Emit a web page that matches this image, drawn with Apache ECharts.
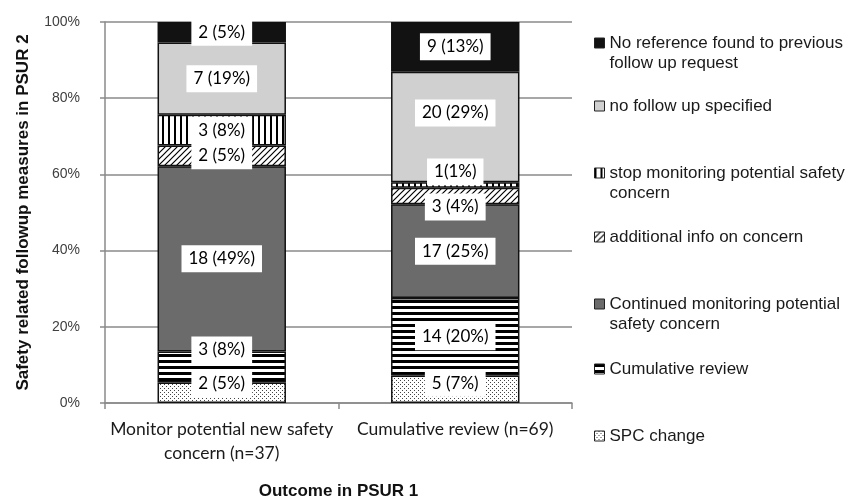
<!DOCTYPE html>
<html>
<head>
<meta charset="utf-8">
<script src="https://cdn.jsdelivr.net/npm/echarts@6/dist/echarts.min.js"></script>
<style>html,body{margin:0;padding:0;background:#fff}#c{width:858px;height:497px}</style>
</head>
<body>
<div id="c"></div>
<script>
// ---- data ----
const categories = ['Monitor potential new safety\nconcern (n=37)', 'Cumulative review (n=69)'];
const seriesNames = ['SPC change', 'Cumulative review', 'Continued monitoring potential\nsafety concern',
  'additional info on concern', 'stop monitoring potential safety\nconcern', 'no follow up specified',
  'No reference found to previous\nfollow up request'];
const spcChange = [2, 5];
const cumulativeReview = [3, 14];
const continuedMonitoring = [18, 17];
const additionalInfo = [2, 3];
const stopMonitoring = [3, 1];
const noFollowUp = [7, 20];
const noReference = [2, 9];
const spcLabels = ['2 (5%)', '5 (7%)'];
const cumulativeLabels = ['3 (8%)', '14 (20%)'];
const continuedLabels = ['18 (49%)', '17 (25%)'];
const additionalLabels = ['2 (5%)', '3 (4%)'];
const stopLabels = ['3 (8%)', '1(1%)'];
const noFollowLabels = ['7 (19%)', '20 (29%)'];
const noReferenceLabels = ['2 (5%)', '9 (13%)'];
const yTicks = [0, 20, 40, 60, 80, 100];

// ---- styling helpers ----
function pattern(w, h, draw) {
  const c = document.createElement('canvas');
  c.width = w; c.height = h;
  const ctx = c.getContext('2d');
  ctx.fillStyle = '#fff'; ctx.fillRect(0, 0, w, h);
  draw(ctx);
  return { image: c, repeat: 'repeat' };
}
const fills = [
  pattern(4, 4, ctx => { ctx.fillStyle = '#444'; ctx.fillRect(0, 0, 1, 1); ctx.fillRect(2, 2, 1, 1); }),
  pattern(6, 6, ctx => { ctx.fillStyle = '#000'; ctx.fillRect(0, 0, 6, 3); }),
  '#6b6b6b',
  pattern(6, 6, ctx => { ctx.strokeStyle = '#000'; ctx.lineWidth = 1.2;
    ctx.beginPath(); ctx.moveTo(-1, 7); ctx.lineTo(7, -1); ctx.moveTo(-1, 1); ctx.lineTo(1, -1);
    ctx.moveTo(5, 7); ctx.lineTo(7, 5); ctx.stroke(); }),
  pattern(6, 6, ctx => { ctx.fillStyle = '#000'; ctx.fillRect(0, 0, 2, 6); }),
  '#d0d0d0',
  '#121212'
];
const counts = [spcChange, cumulativeReview, continuedMonitoring, additionalInfo, stopMonitoring, noFollowUp, noReference];
const labels = [spcLabels, cumulativeLabels, continuedLabels, additionalLabels, stopLabels, noFollowLabels, noReferenceLabels];
// label nudges (px) per series per category
const labelNudge = [[-9, -6], [-17, 0], [0, 0], [0, 11], [0, -13], [0, -14], [0, 0]];
const legendTops = [426, 359, 294, 227, 163, 96, 33];

const totals = categories.map((_, i) => counts.reduce((s, arr) => s + arr[i], 0));

const series = seriesNames.map((name, s) => ({
  name, type: 'bar', stack: 'all', barWidth: '55%',
  itemStyle: { color: fills[s], borderColor: '#111', borderWidth: 1.5 },
  label: {
    show: true, position: 'inside', color: '#000', fontFamily: 'Lato', fontSize: 17,
    backgroundColor: '#fff', padding: [5, 7]
  },
  data: counts[s].map((v, i) => ({
    value: v / totals[i] * 100,
    label: { formatter: labels[s][i], offset: [0, labelNudge[s][i]] }
  }))
}));

const legends = seriesNames.map((name, s) => {
  const twoLine = name.indexOf('\n') >= 0;
  return {
    data: [name], left: 594, top: legendTops[s], padding: 0, orient: 'vertical',
    icon: twoLine ? 'path://M0,0H10V10H0Z M0,30H0.0001' : 'rect',
    itemWidth: 10, itemHeight: twoLine ? 30 : 10,
    itemStyle: { borderColor: '#222', borderWidth: 1 },
    textStyle: { fontFamily: 'Arial', fontSize: 17, color: '#1a1a1a', lineHeight: 20 },
    selectedMode: false
  };
});

const chart = echarts.init(document.getElementById('c'));
chart.setOption({
  animation: false,
  backgroundColor: '#fff',
  grid: { left: 105, right: 286, top: 22, bottom: 94, containLabel: false, outerBoundsMode: 'none' },
  legend: legends,
  xAxis: {
    type: 'category', data: categories,
    name: 'Outcome in PSUR 1', nameLocation: 'middle', nameGap: 80,
    nameTextStyle: { fontFamily: 'Arial', fontWeight: 'bold', fontSize: 17, color: '#111' },
    axisLine: { lineStyle: { color: '#8a8a8a', width: 1.5 } },
    axisTick: { show: true, length: 6, alignWithLabel: false, lineStyle: { color: '#8a8a8a', width: 1.5 } },
    axisLabel: { fontFamily: 'Lato', fontSize: 17.5, color: '#1a1a1a', lineHeight: 24, margin: 14, interval: 0 }
  },
  yAxis: {
    type: 'value', min: yTicks[0], max: yTicks[yTicks.length - 1], interval: 20,
    name: 'Safety related followup measures in PSUR 2', nameLocation: 'middle', nameGap: 73,
    nameTextStyle: { fontFamily: 'Arial', fontWeight: 'bold', fontSize: 17, color: '#111' },
    axisLine: { show: true, lineStyle: { color: '#8a8a8a', width: 1.5 } },
    axisTick: { show: true, length: 5, lineStyle: { color: '#8a8a8a', width: 1.5 } },
    splitLine: { show: true, lineStyle: { color: '#8a8a8a', width: 1.5 } },
    axisLabel: { fontFamily: 'Arial', fontSize: 14, color: '#404040', margin: 25, formatter: '{value}%' }
  },
  series
});
</script>
</body>
</html>
